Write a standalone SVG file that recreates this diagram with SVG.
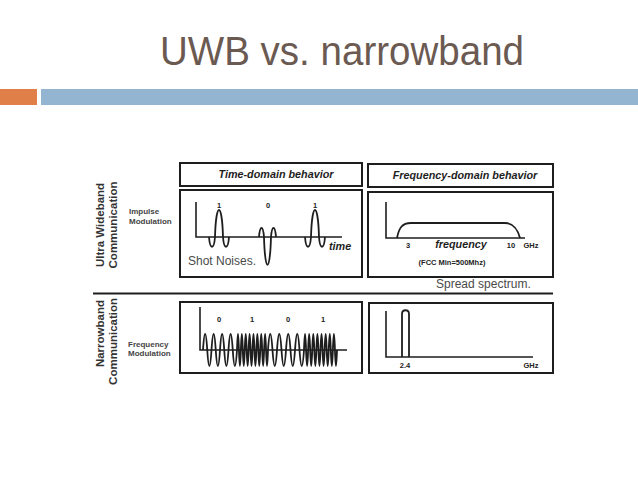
<svg xmlns="http://www.w3.org/2000/svg" width="638" height="479" viewBox="0 0 638 479">
<style>
.box{fill:none;stroke:#1e1e1e;stroke-width:2}
.ax{fill:none;stroke:#1e1e1e;stroke-width:1.6}
.w{fill:none;stroke:#1e1e1e;stroke-width:1.8;stroke-linejoin:round}
.hd{font-family:"Liberation Sans",Arial,sans-serif;font-weight:bold;font-style:italic;font-size:10.8px;fill:#1e1e1e}
.sm{font-family:"Liberation Sans",Arial,sans-serif;font-weight:bold;font-size:7.5px;fill:#222}
.side{font-family:"Liberation Sans",Arial,sans-serif;font-weight:bold;font-size:11.5px;fill:#333}
.mod{font-family:"Liberation Sans",Arial,sans-serif;font-weight:bold;font-size:8px;fill:#444}
.note{font-family:"Liberation Sans",Arial,sans-serif;font-size:12px;fill:#4a4a4a}
</style>
<rect width="638" height="479" fill="#ffffff"/>
<g id="title">
<text x="160" y="65" font-family="'Liberation Sans',Arial,sans-serif" font-size="41" fill="#6b5a52" textLength="364" lengthAdjust="spacingAndGlyphs">UWB vs. narrowband</text>
<rect x="0" y="89" width="37" height="16" fill="#e07f48"/>
<rect x="41" y="89" width="597" height="16" fill="#94b5d2"/>
</g>
<g id="side-labels">
<text class="side" transform="translate(103.5,225) rotate(-90)" text-anchor="middle">Ultra Wideband</text>
<text class="side" transform="translate(116.5,225) rotate(-90)" text-anchor="middle">Communication</text>
<text class="side" transform="translate(103.5,300) rotate(-90)" text-anchor="end" font-size="10.5">Narrowband</text>
<text class="side" transform="translate(116.5,298) rotate(-90)" text-anchor="end">Communication</text>
<text class="mod" x="129" y="214">Impulse</text>
<text class="mod" x="129" y="224">Modulation</text>
<text class="mod" x="128" y="347">Frequency</text>
<text class="mod" x="128" y="356">Modulation</text>
<line x1="93" y1="293.5" x2="553" y2="293.5" stroke="#1e1e1e" stroke-width="2"/>
</g>
<g id="time-header">
<rect class="box" x="180" y="163" width="182" height="23"/>
<text class="hd" x="276" y="178" text-anchor="middle">Time-domain behavior</text>
</g>
<g id="freq-header">
<rect class="box" x="368" y="164" width="185" height="23"/>
<text class="hd" x="465" y="179" text-anchor="middle">Frequency-domain behavior</text>
</g>
<g id="uwb-time">
<rect class="box" x="180" y="190" width="182" height="87"/>
<path class="ax" d="M196 202 V237 H342"/>
<path class="w" d="M209 237 C210 250 214 250 215 237 C216 201 222 201 223 237 C224 250 228 250 229 237"/>
<path class="w" d="M259 237 C260 225 263 225 264 237 C265 274 270 274 271 237 C272 225 275 225 276 237"/>
<path class="w" d="M305 237 C306 250 310 250 311 237 C312 201 318 201 319 237 C320 250 324 250 325 237"/>
<text class="sm" x="219" y="208" text-anchor="middle">1</text>
<text class="sm" x="268" y="208" text-anchor="middle">0</text>
<text class="sm" x="315" y="208" text-anchor="middle">1</text>
<text class="hd" x="329" y="250">time</text>
<text class="note" x="188" y="265">Shot Noises.</text>
</g>
<g id="uwb-freq">
<rect class="box" x="368" y="192" width="185" height="85"/>
<path class="ax" d="M386 202 V238 H525"/>
<path class="w" d="M397 238 C399 228 402 223 411 223 L505 223 C513 223 518 230 520 238"/>
<text class="sm" x="408" y="248" text-anchor="middle">3</text>
<text class="hd" x="461" y="248" text-anchor="middle">frequency</text>
<text class="sm" x="511" y="248" text-anchor="middle">10</text>
<text class="sm" x="531" y="248" text-anchor="middle">GHz</text>
<text class="sm" x="452" y="265" text-anchor="middle" font-size="7">(FCC Min=500Mhz)</text>
<text class="note" x="436" y="288" font-size="11.5">Spread spectrum.</text>
</g>
<g id="nb-time">
<rect class="box" x="180" y="302" width="182" height="71"/>
<path class="ax" d="M200 307 V350 H347"/>
<path class="w" stroke-width="1.5" d="M203 350 Q205.125 318 207.25 350 T211.5 350 T215.75 350 T220 350 T224.25 350 T228.5 350 T232.75 350 T237 350 Q237.97 318 238.94 350 T240.88 350 T242.81 350 T244.75 350 T246.69 350 T248.63 350 T250.56 350 T252.5 350 T254.44 350 T256.38 350 T258.31 350 T260.25 350 T262.19 350 T264.13 350 T266.06 350 T268 350 Q270.25 318 272.5 350 T277 350 T281.5 350 T286 350 T290.5 350 T295 350 T299.5 350 T304 350 Q305.03 318 306.06 350 T308.13 350 T310.19 350 T312.25 350 T314.31 350 T316.38 350 T318.44 350 T320.5 350 T322.56 350 T324.63 350 T326.69 350 T328.75 350 T330.81 350 T332.88 350 T334.94 350 T337 350"/>
<text class="sm" x="219" y="322" text-anchor="middle">0</text>
<text class="sm" x="252" y="322" text-anchor="middle">1</text>
<text class="sm" x="288" y="322" text-anchor="middle">0</text>
<text class="sm" x="323" y="322" text-anchor="middle">1</text>
</g>
<g id="nb-freq">
<rect class="box" x="369" y="303" width="184" height="70"/>
<path class="ax" d="M386 311 V357 H533"/>
<path class="w" d="M402 357 V314 C402 309 409 309 409 314 V357"/>
<text class="sm" x="405" y="368" text-anchor="middle">2.4</text>
<text class="sm" x="531" y="368" text-anchor="middle">GHz</text>
</g>
</svg>
